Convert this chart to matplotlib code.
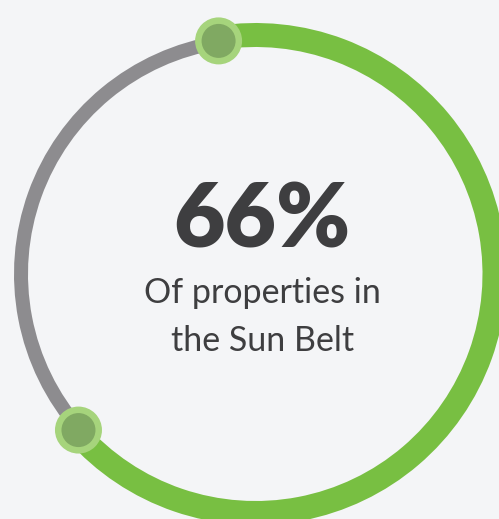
import numpy as np
import matplotlib.pyplot as plt
from matplotlib.patches import Circle

# data
labels = ["Sun Belt", "Other"]
shares = [66, 34]
headline = "66%"
caption = ["Of properties in", "the Sun Belt"]

green = "#78BF42"
grey = "#8D8C8F"
knob_outer = "#A6D47C"
knob_inner = "#80A962"
bg = "#F4F5F7"
ink = "#3E3E40"

W, H = 499, 519
fig = plt.figure(figsize=(W / 100, H / 100), dpi=100, facecolor=bg)
ax = fig.add_axes([0, 0, 1, 1])
ax.set_facecolor(bg)

cx, cy = 255.5, H - 274
start = 99.0  # degrees, ring starts just left of 12 o'clock

# green ring is thicker than the grey one, inner edges line up
ax.pie(shares, radius=251, center=(cx, cy), startangle=start, counterclock=False,
       colors=[green, "none"], wedgeprops=dict(width=24, linewidth=0))
ax.pie(shares, radius=241.5, center=(cx, cy), startangle=start, counterclock=False,
       colors=["none", grey], wedgeprops=dict(width=14, linewidth=0))

# knobs at the boundaries between slices
bounds = start - 360 * np.cumsum([0] + shares[:1]) / sum(shares)
for a in bounds:
    t = np.radians(a)
    px, py = cx + 236 * np.cos(t), cy + 236 * np.sin(t)
    ax.add_patch(Circle((px, py), 23.5, color=knob_outer, lw=0, zorder=5))
    ax.add_patch(Circle((px, py), 17, color=knob_inner, lw=0, zorder=6))

ax.text(262, H - 247, headline, ha="center", va="baseline", fontsize=64,
        fontweight="heavy", family="Lato", color=ink)
ax.text(262, H - 303, caption[0], ha="center", va="baseline", fontsize=24.5,
        family="Lato", color=ink)
ax.text(263, H - 351, caption[1], ha="center", va="baseline", fontsize=24.5,
        family="Lato", color=ink)

ax.set_xlim(0, W)
ax.set_ylim(0, H)
ax.set_aspect("equal")
ax.axis("off")

fig.savefig("out.png", dpi=100, facecolor=bg)
